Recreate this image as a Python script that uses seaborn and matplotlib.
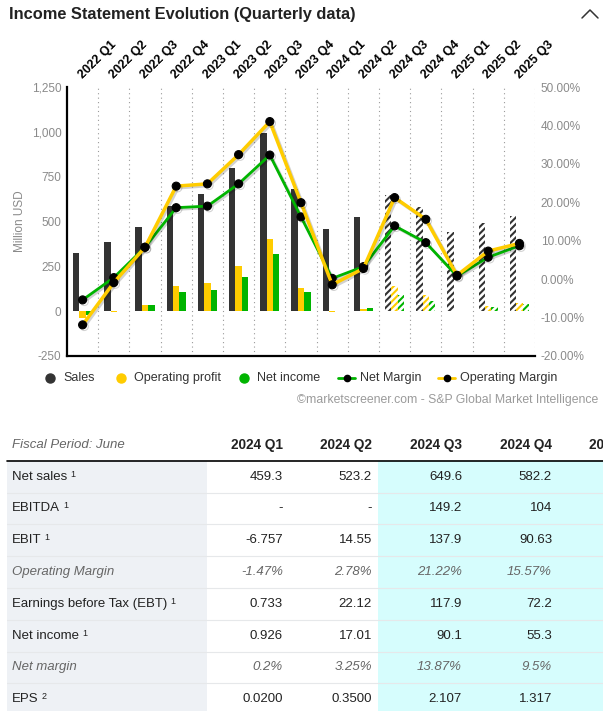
import numpy as np
import pandas as pd
import matplotlib
matplotlib.use("Agg")
import matplotlib.pyplot as plt
import matplotlib.patheffects as pe
from matplotlib.patches import Rectangle
from matplotlib.ticker import FuncFormatter
import seaborn as sns

# ---------------- data ----------------
quarters = ["2022 Q1", "2022 Q2", "2022 Q3", "2022 Q4", "2023 Q1", "2023 Q2", "2023 Q3", "2023 Q4",
            "2024 Q1", "2024 Q2", "2024 Q3", "2024 Q4", "2025 Q1", "2025 Q2", "2025 Q3"]
sales = [325, 386, 471, 588, 654, 799, 996, 683, 459.3, 523.2, 649.6, 582.2, 442, 494, 531]
operating_profit = [-40, -5, 35, 140, 159, 254, 403, 130, -6.757, 14.55, 137.9, 90.63, 3, 29, 47]
net_income = [-20, 0, 35, 107, 118, 191, 321, 109, 0.926, 17.01, 90.1, 55.3, 1, 22, 40]
net_margin = [-5.4, 0.4, 8.3, 18.6, 19.0, 24.8, 32.3, 16.2, 0.2, 3.25, 13.87, 9.5, 0.8, 5.7, 8.7]
operating_margin = [-11.9, -0.9, 8.3, 24.2, 24.8, 32.4, 41.0, 19.9, -1.47, 2.78, 21.22, 15.57, 1.0, 7.3, 9.3]
forecast_start = "2024 Q3"

series_names = ["Sales", "Operating profit", "Net income"]

table_periods = ["2024 Q1", "2024 Q2", "2024 Q3", "2024 Q4", "2025 Q1"]
row_labels = ["Net sales", "EBITDA", "EBIT", "Operating Margin", "Earnings before Tax (EBT)",
              "Net income", "Net margin", "EPS"]
row_notes = ["1", "1", "1", "", "1", "1", "", "2"]
row_italic = [False, False, False, True, False, False, True, False]
col_2024_q1 = ["459.3", "-", "-6.757", "-1.47%", "0.733", "0.926", "0.2%", "0.0200"]
col_2024_q2 = ["523.2", "-", "14.55", "2.78%", "22.12", "17.01", "3.25%", "0.3500"]
col_2024_q3 = ["649.6", "149.2", "137.9", "21.22%", "117.9", "90.1", "13.87%", "2.107"]
col_2024_q4 = ["582.2", "104", "90.63", "15.57%", "72.2", "55.3", "9.5%", "1.317"]
table_columns = [col_2024_q1, col_2024_q2, col_2024_q3, col_2024_q4]

# ---------------- style ----------------
sns.set_style("white")
plt.rcParams["font.family"] = ["Liberation Sans", "DejaVu Sans"]
plt.rcParams["hatch.linewidth"] = 1.5

DARK = "#333333"
YELLOW = "#ffcc00"
GREEN = "#00b400"
GREY_TXT = "#8a8a8a"
bar_colors = [DARK, YELLOW, GREEN]

W, H = 603, 711
fig = plt.figure(figsize=(W / 100, H / 100), dpi=100)
fig.patch.set_facecolor("white")

ax = fig.add_axes([67 / W, 1 - 356 / H, 468 / W, 269 / H])

df = pd.DataFrame({
    "quarter": quarters * 3,
    "series": [s for s in series_names for _ in quarters],
    "value": sales + operating_profit + net_income,
})
sns.barplot(data=df, x="quarter", y="value", hue="series", hue_order=series_names,
            order=quarters, palette=bar_colors, width=0.62, saturation=1,
            linewidth=0, errorbar=None, legend=False, ax=ax)

fc_idx = quarters.index(forecast_start)
for cont, col in zip(ax.containers, bar_colors):
    for i, bar in enumerate(cont):
        if i >= fc_idx:
            bar.set_facecolor("white")
            bar.set_edgecolor(col)
            bar.set_hatch("/////")
            bar.set_linewidth(0)

ax.set_xlim(-0.5, len(quarters) - 0.5)
ax.set_ylim(-250, 1250)
ax.set_yticks(np.arange(-250, 1251, 250))
ax.yaxis.set_major_formatter(FuncFormatter(lambda v, p: f"{v:,.0f}"))
ax.set_xlabel("")
ax.set_ylabel("Million USD", color=GREY_TXT, fontsize=8.5)
ax.yaxis.set_label_coords(-0.088, 0.5)

ax.xaxis.tick_top()
ax.set_xticks(range(len(quarters)))
ax.set_xticklabels(quarters, rotation=45, ha="left", va="baseline", rotation_mode="anchor",
                   fontweight="bold", fontsize=9, color="black")
ax.set_xticks(np.arange(0.5, len(quarters), 1), minor=True)
ax.tick_params(axis="x", which="both", length=0, pad=6)
ax.tick_params(axis="y", length=0, pad=4, labelsize=8.5, labelcolor=GREY_TXT)
ax.grid(False)
ax.grid(which="minor", axis="x", color="#9a9a9a", linestyle=(0, (1, 3)), linewidth=0.8)
ax.set_axisbelow(True)
for s in ["top", "right"]:
    ax.spines[s].set_visible(False)
for s in ["left", "bottom"]:
    ax.spines[s].set_color("black")
    ax.spines[s].set_linewidth(1.6)

ax2 = ax.twinx()
xpos = np.arange(len(quarters))
sns.lineplot(x=xpos, y=net_margin, ax=ax2, color=GREEN, linewidth=2.0, marker="o",
             markersize=5.8, markerfacecolor="black", markeredgecolor="black")
sns.lineplot(x=xpos, y=operating_margin, ax=ax2, color=YELLOW, linewidth=2.5, marker="o",
             markersize=5.8, markerfacecolor="black", markeredgecolor="black")
for ln in ax2.lines:
    ln.set_path_effects([pe.SimpleLineShadow(offset=(1.2, -1.2), shadow_color="black", alpha=0.18),
                         pe.Normal()])
ax2.set_ylim(-20, 50)
ax2.set_yticks(np.arange(-20, 51, 10))
ax2.yaxis.set_major_formatter(FuncFormatter(lambda v, p: f"{v:.2f}%"))
ax2.tick_params(axis="y", length=0, pad=4, labelsize=8.5, labelcolor=GREY_TXT)
ax2.set_ylabel("")
ax2.grid(False)
for s in ax2.spines.values():
    s.set_visible(False)
ax.set_xlim(-0.5, len(quarters) - 0.5)

# ---------------- overlay (title, legend, credit, table) ----------------
ov = fig.add_axes([0, 0, 1, 1])
ov.set_xlim(0, W)
ov.set_ylim(H, 0)
ov.axis("off")

ov.text(9, 15, "Income Statement Evolution (Quarterly data)", fontsize=11.8, fontweight="bold",
        color="#222222", ha="left", va="center")
ov.plot([582, 590, 598], [18, 10, 18], color="#333333", lw=1.1, solid_capstyle="round")

ly = 378
for x, col, lab in [(50, DARK, "Sales"), (121, YELLOW, "Operating profit"), (244, GREEN, "Net income")]:
    ov.plot([x], [ly], "o", color=col, ms=6.5)
    ov.text(x + 13, ly, lab, fontsize=9, color="#333333", ha="left", va="center")
for x0, col, lab in [(338, GREEN, "Net Margin"), (438, YELLOW, "Operating Margin")]:
    ov.plot([x0, x0 + 17], [ly, ly], color=col, lw=2)
    ov.plot([x0 + 8.5], [ly], "o", color="black", ms=4.5)
    ov.text(x0 + 22, ly, lab, fontsize=9, color="#333333", ha="left", va="center")

ov.text(598, 400, "\u00a9marketscreener.com - S&P Global Market Intelligence", fontsize=8.8,
        color="#9a9a9a", ha="right", va="center")

# table
top_line = 460.7
row_h = 31.8
n_rows = len(row_labels)
ov.add_patch(Rectangle((7, top_line), 200, H - top_line, facecolor="#eef1f5", edgecolor="none"))
ov.add_patch(Rectangle((378, top_line), W - 378, H - top_line, facecolor="#d6fdfd", edgecolor="none"))
for k in range(1, n_rows):
    yy = top_line + k * row_h
    ov.plot([7, W], [yy, yy], color="#e6e8ea", lw=0.8)
ov.plot([7, W], [top_line, top_line], color="black", lw=1.2)

ov.text(12, 445, "Fiscal Period: June", fontsize=9.5, style="italic", color="#666666",
        ha="left", va="center")
col_right = [283, 372, 462, 552, 641]
for xr, per in zip(col_right, table_periods):
    ov.text(xr, 445, per, fontsize=9.8, fontweight="bold", color="#222222", ha="right",
            va="center", clip_on=True)

renderer = fig.canvas.get_renderer()
inv = ov.transData.inverted()
for r in range(n_rows):
    yc = top_line + row_h * (r + 0.5)
    italic = row_italic[r]
    tcol = "#666666" if italic else "#222222"
    t = ov.text(12, yc, row_labels[r], fontsize=9.5, style="italic" if italic else "normal",
                color=tcol, ha="left", va="center")
    if row_notes[r]:
        bb = t.get_window_extent(renderer)
        x_end = inv.transform((bb.x1, bb.y1))[0]
        ov.text(x_end + 3, yc - 7, row_notes[r], fontsize=6.5, color="#222222",
                ha="left", va="top")
    for xr, colvals in zip(col_right, table_columns):
        ov.text(xr, yc, colvals[r], fontsize=9.5, style="italic" if italic else "normal",
                color=tcol, ha="right", va="center")

fig.savefig("out.png", dpi=100, facecolor="white")
